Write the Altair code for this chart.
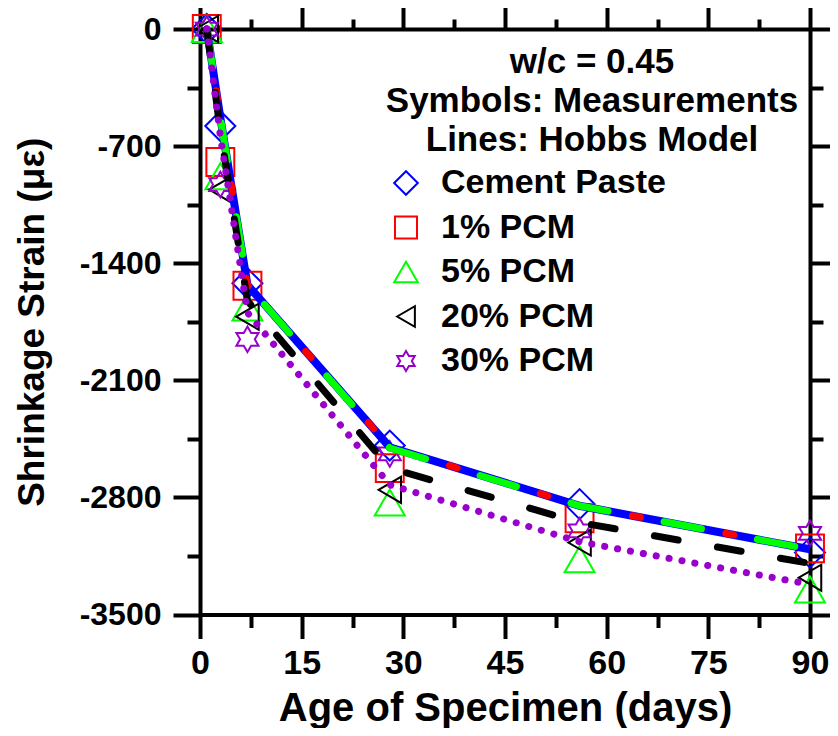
import altair as alt
import pandas as pd

# ---------------- data ----------------
days = [1, 3, 7, 28, 56, 90]
series = ["Cement Paste", "1% PCM", "5% PCM", "20% PCM", "30% PCM"]

# measurements (symbols)
meas_cement = [0, -580, -1520, -2490, -2840, -3130]
meas_pcm1 = [0, -795, -1535, -2625, -2925, -3105]
meas_pcm5 = [0, -880, -1665, -2830, -3170, -3350]
meas_pcm20 = [0, -960, -1720, -2755, -3070, -3280]
meas_pcm30 = [0, -930, -1855, -2540, -3000, -3015]

# Hobbs model (lines)
model_cement = [0, -530, -1530, -2500, -2850, -3110]
model_pcm1 = [0, -530, -1530, -2500, -2850, -3110]
model_pcm5 = [0, -530, -1530, -2505, -2850, -3110]
model_pcm20 = [0, -610, -1625, -2625, -2950, -3195]
model_pcm30 = [0, -640, -1695, -2725, -3065, -3320]

colors = ["#0000ff", "#ff0000", "#00ff00", "#000000", "#9900cc"]
header_lines = ["w/c = 0.45", "Symbols: Measurements", "Lines: Hobbs Model"]

x_ticks = [0, 7.5, 15, 22.5, 30, 37.5, 45, 52.5, 60, 67.5, 75, 82.5, 90]
y_ticks = [0, -350, -700, -1050, -1400, -1750, -2100, -2450, -2800, -3150, -3500]
x_title = "Age of Specimen (days)"
y_title = "Shrinkage Strain (\u03bc\u03b5)"

# open symbol outlines in the unit box [-1, 1]
DIAMOND = "M-1,0L0,-1L1,0L0,1Z"
SQUARE = "M-0.93,-0.93L0.93,-0.93L0.93,0.93L-0.93,0.93Z"
TRI_UP = "M0,-0.866L1,0.866L-1,0.866Z"
TRI_LEFT = "M-0.75,0L0.75,-0.87L0.75,0.87Z"
HEX = ("M0,-0.85L0.2454,-0.425L0.7361,-0.425L0.4908,0L0.7361,0.425L0.2454,0.425L0,0.85"
       "L-0.2454,0.425L-0.7361,0.425L-0.4908,0L-0.7361,-0.425L-0.2454,-0.425Z")
shapes = [DIAMOND, SQUARE, TRI_UP, TRI_LEFT, HEX]

# ---------------- tables ----------------
meas_vals = [meas_cement, meas_pcm1, meas_pcm5, meas_pcm20, meas_pcm30]
model_vals = [model_cement, model_pcm1, model_pcm5, model_pcm20, model_pcm30]
meas_df = pd.DataFrame([
    {"day": d, "strain": v, "series": s}
    for s, vals in zip(series, meas_vals) for d, v in zip(days, vals)
])
model_df = pd.DataFrame([
    {"day": d, "strain": v, "series": s}
    for s, vals in zip(series, model_vals) for d, v in zip(days, vals)
])

FONT = "Liberation Sans"
xscale = alt.Scale(domain=[0, 90], nice=False)
yscale = alt.Scale(domain=[-3500, 0], nice=False)
cscale = alt.Scale(domain=series, range=colors)
sscale = alt.Scale(domain=series, range=shapes)

common_axis = dict(
    grid=False, domainColor="black", domainWidth=4, tickColor="black", tickWidth=4,
    labelColor="black", labelFont=FONT, labelFontWeight="bold",
    titleFont=FONT, titleFontWeight="bold", titleColor="black",
    labelOverlap=False, labelFlush=False,
)

x_axis = alt.Axis(
    orient="bottom", values=x_ticks,
    labelExpr="datum.value % 15 === 0 ? '' + datum.value : ''",
    tickSize={"condition": {"test": "datum.value % 15 === 0", "value": 24}, "value": 13},
    labelFontSize=34, labelPadding=8, title=x_title, titleFontSize=40, titlePadding=8,
    **common_axis,
)
y_axis = alt.Axis(
    orient="left", values=y_ticks,
    labelExpr="datum.value % 700 === 0 ? '' + datum.value : ''",
    tickSize={"condition": {"test": "datum.value % 700 === 0", "value": 27}, "value": 13},
    labelFontSize=32, labelPadding=12, title=y_title, titleFontSize=37, titlePadding=28,
    **common_axis,
)
x_axis_top = alt.Axis(
    orient="top", values=x_ticks, labels=False, title=None,
    tickSize={"condition": {"test": "datum.value % 15 === 0", "value": 23}, "value": 10},
    **common_axis,
)
y_axis_right = alt.Axis(
    orient="right", values=y_ticks, labels=False, title=None,
    tickSize={"condition": {"test": "datum.value % 700 === 0", "value": 23}, "value": 13},
    **common_axis,
)

X = alt.X("day:Q", scale=xscale, axis=x_axis)
Y = alt.Y("strain:Q", scale=yscale, axis=y_axis)

legend = alt.Legend(
    title=None, orient="none", legendX=189, legendY=137, padding=0,
    labelFont=FONT, labelFontSize=34, labelFontWeight="bold", labelColor="black",
    labelOffset=18, labelLimit=0, rowPadding=10.5, symbolSize=560, symbolStrokeWidth=2,
)

points = alt.Chart(meas_df).mark_point(filled=False, strokeWidth=2, opacity=1, size=900).encode(
    x=X, y=Y,
    color=alt.Color("series:N", scale=cscale, legend=legend),
    shape=alt.Shape("series:N", scale=sscale, legend=legend),
)


def line_layer(name, color, width, dash=None, offset=None, cap="butt"):
    kw = dict(color=color, strokeWidth=width, strokeCap=cap)
    if dash is not None:
        kw["strokeDash"] = dash
    if offset is not None:
        kw["strokeDashOffset"] = offset
    return (alt.Chart(model_df).transform_filter(alt.datum.series == name)
            .mark_line(**kw).encode(x=X, y=Y, order="day:Q"))


lines = [
    line_layer(series[0], colors[0], 8),
    line_layer(series[1], colors[1], 7, dash=[8, 87], offset=32.5, cap="round"),
    line_layer(series[2], colors[2], 7, dash=[38, 57], cap="round"),
    line_layer(series[3], colors[3], 7, dash=[24, 40], cap="round"),
    line_layer(series[4], colors[4], 7, dash=[0.1, 13], cap="round"),
]

texts = []
for i, t in enumerate(header_lines):
    texts.append(
        alt.Chart(pd.DataFrame({"t": [t]})).mark_text(
            font=FONT, fontSize=35, fontWeight="bold", color="black",
            align="center", baseline="middle",
        ).encode(text="t:N", x=alt.value(392), y=alt.value(33 + 39 * i))
    )

inner = alt.layer(points, *lines, *texts)

mirror = alt.Chart(meas_df).mark_point(opacity=0).encode(
    x=alt.X("day:Q", scale=xscale, axis=x_axis_top),
    y=alt.Y("strain:Q", scale=yscale, axis=y_axis_right),
)

chart = (
    alt.layer(inner, mirror)
    .resolve_axis(x="independent", y="independent")
    .properties(
        width=610, height=585.5,
        autosize=alt.AutoSizeParams(type="none"),
        padding={"left": 192, "top": 21, "right": 20, "bottom": 113},
    )
    .configure_view(stroke=None)
    .configure(background="white")
)

chart.save("out.html", embed_options={"renderer": "svg", "actions": False})
